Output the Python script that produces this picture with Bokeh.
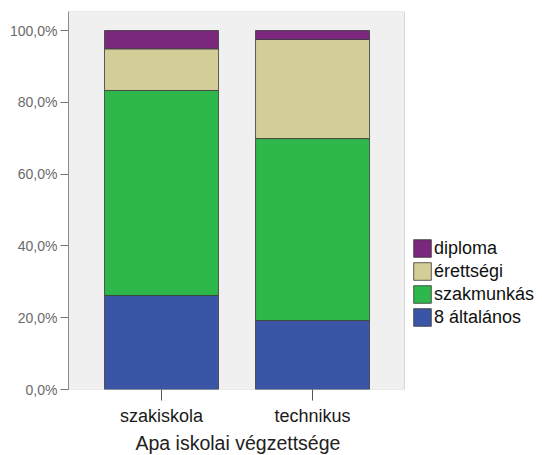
from bokeh.plotting import figure
from bokeh.models import Range1d, FixedTicker, Legend, LegendItem, ColumnDataSource, BoxAnnotation, Title
from bokeh.embed import file_html
from bokeh.resources import INLINE

categories = ["szakiskola", "technikus"]
series = ["8 általános", "szakmunkás", "érettségi", "diploma"]
alt8 = [26.2, 19.2]
szakmunkas = [57.1, 50.7]
erettsegi = [11.6, 27.6]
diploma = [5.1, 2.5]
colors = ["#3b55a6", "#2eb74a", "#d3ce98", "#7b277d"]
y_ticks = [0, 20, 40, 60, 80, 100]
y_tick_labels = ["0,0%", "20,0%", "40,0%", "60,0%", "80,0%", "100,0%"]
x_title = "Apa iskolai végzettsége"

# category slots: each category occupies one unit, centred at i + 0.5
xpos = [i + 0.5 for i in range(len(categories))]
keys = ["a", "b", "c", "d"]
source = ColumnDataSource(dict(x=xpos, a=alt8, b=szakmunkas, c=erettsegi, d=diploma))

FONT = "Liberation Sans"
X_LO, X_HI, X_END = -0.116, 2.109, 3.023
Y_TOP = 105.3

p = figure(
    width=542, height=455,
    x_range=Range1d(X_LO, X_END),
    y_range=Range1d(0, Y_TOP),
    output_backend="svg", toolbar_location=None,
    min_border_left=68, min_border_right=0, min_border_top=11, min_border_bottom=66,
)
p.background_fill_color = "white"
p.border_fill_color = "white"
p.outline_line_color = None
p.xgrid.visible = False
p.ygrid.visible = False

area = BoxAnnotation(left=X_LO, right=X_HI, bottom=0, top=Y_TOP,
                     fill_color="#f0f0f0", fill_alpha=1.0,
                     line_color="#8c8c8c", line_width=1, level="underlay")
p.add_layout(area)

rs = p.vbar_stack(keys, x="x", width=0.755, source=source, color=colors,
                  line_color="#3a3a3a", line_width=1, line_alpha=0.8)
for r, c in zip(rs, colors):
    r.glyph.fill_color = c
    r.glyph.line_color = "#3a3a3a"

items = [LegendItem(label=s, renderers=[r]) for s, r in zip(series, rs)]
legend = Legend(items=list(reversed(items)), location=(343, 61),
                glyph_width=22, glyph_height=22, label_height=22, spacing=1,
                padding=0, margin=0, border_line_color=None, background_fill_alpha=0,
                label_text_font=FONT, label_text_font_size="18px", label_text_color="#111111",
                label_standoff=1)
p.add_layout(legend, "center")

# y axis
p.yaxis.ticker = FixedTicker(ticks=y_ticks)
p.yaxis.major_label_overrides = {t: l for t, l in zip(y_ticks, y_tick_labels)}
p.yaxis.minor_tick_line_color = None
p.yaxis.major_tick_in = 0
p.yaxis.major_tick_out = 8
p.yaxis.major_tick_line_color = "#777777"
p.yaxis.axis_line_color = "#8c8c8c"
p.yaxis.major_label_text_font = FONT
p.yaxis.major_label_text_font_size = "14px"
p.yaxis.major_label_text_color = "#6a6a6a"
p.yaxis.major_label_standoff = 3

# x axis
p.xaxis.ticker = FixedTicker(ticks=xpos)
p.xaxis.major_label_overrides = {x: c for x, c in zip(xpos, categories)}
p.xaxis.minor_tick_line_color = None
p.xaxis.major_tick_in = 0
p.xaxis.major_tick_out = 11
p.xaxis.major_tick_line_color = "#555555"
p.xaxis.axis_line_color = None
p.xaxis.major_label_text_font = FONT
p.xaxis.major_label_text_font_size = "18px"
p.xaxis.major_label_text_font_style = "normal"
p.xaxis.major_label_text_color = "#1a1a1a"
p.xaxis.major_label_standoff = 5

# x axis title, centred under the plotting area (not under the legend)
xt = Title(text=x_title, align="left", offset=67, standoff=2,
           text_font=FONT, text_font_size="19.5px", text_font_style="normal",
           text_color="#222222")
p.add_layout(xt, "below")

open("out.html", "w").write(file_html(p, INLINE))
